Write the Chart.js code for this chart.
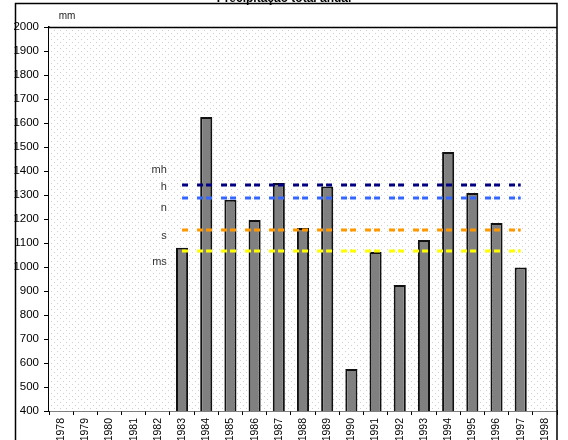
<!DOCTYPE html>
<html>
<head>
<meta charset="utf-8">
<script src="https://cdn.jsdelivr.net/npm/chart.js@4/dist/chart.umd.min.js"></script>
<style>
  body { margin: 0; background: #fff; }
  #wrap { width: 568px; height: 440px; position: relative; }
</style>
</head>
<body>
<div id="wrap"><canvas id="precipChart"></canvas></div>
<script>
const years = ['1978', '1979', '1980', '1981', '1982', '1983', '1984', '1985', '1986', '1987', '1988',
    '1989', '1990', '1991', '1992', '1993', '1994', '1995', '1996', '1997', '1998'];
const precipitation = [null, null, null, null, null, 1080, 1625, 1280, 1196, 1350, 1162,
    1335, 575, 1062, 925, 1112, 1479, 1308, 1183, 998, null];

// reference levels, drawn from 1983 to 1997
const levelNames = ['mh', 'h', 'n', 's'];
const levelValues = [1342, 1287, 1154, 1067];
const levelColors = ['#000080', '#3366ff', '#ff9900', '#ffff00'];
const levelFirst = '1983';
const levelLast = '1997';

// text labels on the left of the levels
const markerTexts = ['mh', 'h', 'n', 's', 'ms'];
const markerValues = [1404, 1333, 1245, 1130, 1020];

const yTicks = [400, 500, 600, 700, 800, 900, 1000, 1100, 1200, 1300, 1400, 1500, 1600, 1700, 1800, 1900, 2000];

const fontFamily = '"Liberation Sans", Arial, sans-serif';

function levelSeries(value) {
    const a = years.indexOf(levelFirst), b = years.indexOf(levelLast);
    return years.map((y, i) => (i >= a && i <= b) ? value : null);
}

function dotPattern(ctx) {
    const c = document.createElement('canvas');
    c.width = 6; c.height = 6;
    const p = c.getContext('2d');
    p.fillStyle = '#ffffff';
    p.fillRect(0, 0, 6, 6);
    p.fillStyle = '#cfcfcf';
    p.fillRect(0, 0, 1, 1);
    p.fillRect(3, 3, 1, 1);
    return ctx.createPattern(c, 'repeat');
}

const decorations = {
    id: 'decorations',
    beforeDatasetsDraw(chart) {
        const { ctx, chartArea } = chart;
        ctx.save();
        ctx.fillStyle = dotPattern(ctx);
        ctx.fillRect(chartArea.left, chartArea.top, chartArea.right - chartArea.left, chartArea.bottom - chartArea.top);
        ctx.restore();
    },
    afterDraw(chart) {
        const { ctx, chartArea, scales } = chart;
        ctx.save();
        // outer frame
        ctx.strokeStyle = '#000';
        ctx.lineWidth = 1.5;
        ctx.strokeRect(15.5, 3.5, chartArea.right - 15.5, 460);
        // top border of plot area
        ctx.beginPath();
        ctx.moveTo(chartArea.left, chartArea.top + 0.5);
        ctx.lineTo(chartArea.right, chartArea.top + 0.5);
        ctx.stroke();

        // title, cut by the top edge
        ctx.fillStyle = '#000';
        ctx.font = 'bold 12px ' + fontFamily;
        ctx.textAlign = 'center';
        ctx.textBaseline = 'alphabetic';
        ctx.fillText('Precipitação total anual', 284, 2);

        // unit
        ctx.font = '10px ' + fontFamily;
        ctx.fillStyle = '#222';
        ctx.fillText('mm', 67, 19);

        // level markers
        ctx.font = '11px ' + fontFamily;
        ctx.fillStyle = '#333';
        ctx.textAlign = 'right';
        ctx.textBaseline = 'middle';
        const xr = scales.x.getPixelForValue(4) + 9;
        markerTexts.forEach((t, i) => {
            ctx.fillText(t, xr, scales.y.getPixelForValue(markerValues[i]));
        });
        ctx.restore();
    }
};

const datasets = levelNames.map((name, i) => ({
    type: 'line',
    label: name,
    data: levelSeries(levelValues[i]),
    borderColor: levelColors[i],
    borderWidth: 3,
    borderDash: [6, 9, 6, 3],
    pointRadius: 0,
    fill: false,
    order: 1
}));
datasets.push({
    type: 'bar',
    label: 'Precipitação',
    data: precipitation,
    backgroundColor: '#808080',
    borderColor: '#111',
    borderWidth: 2,
    barPercentage: 0.5,
    categoryPercentage: 1,
    order: 2
});

const ctx = document.getElementById('precipChart').getContext('2d');
new Chart(ctx, {
    data: { labels: years, datasets: datasets },
    options: {
        responsive: true,
        maintainAspectRatio: false,
        animation: false,
        layout: { padding: { left: 0, right: 11, top: 27, bottom: 0 } },
        plugins: {
            legend: { display: false },
            title: { display: false },
            tooltip: { enabled: false }
        },
        scales: {
            x: {
                offset: true,
                grid: { offset: true, drawOnChartArea: false, tickLength: 4, color: '#000', lineWidth: 1 },
                border: { display: true, color: '#000', width: 1.5 },
                ticks: {
                    color: '#000',
                    minRotation: 90,
                    maxRotation: 90,
                    padding: 3,
                    font: { family: fontFamily, size: 10.5 }
                },
                afterFit(scale) { scale.height = 29; }
            },
            y: {
                min: 400,
                max: 2000,
                afterBuildTicks(scale) { scale.ticks = yTicks.map(v => ({ value: v })); },
                grid: { drawOnChartArea: false, tickLength: 5, color: '#000', lineWidth: 1 },
                border: { display: true, color: '#000', width: 1.5 },
                ticks: {
                    color: '#000',
                    padding: 5,
                    font: { family: fontFamily, size: 11.5 },
                    callback: v => String(v)
                },
                afterFit(scale) { scale.width = 49; }
            }
        }
    },
    plugins: [decorations]
});
</script>
</body>
</html>
